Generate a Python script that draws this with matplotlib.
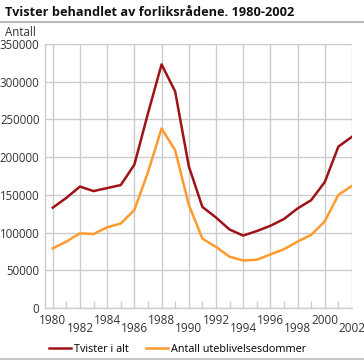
import matplotlib.pyplot as plt
from matplotlib.lines import Line2D
from matplotlib.ticker import MultipleLocator

# Data
years = list(range(1980, 2003))
tvister = [133000, 146000, 161000, 155000, 159000, 163000, 190000, 258000,
           323000, 287000, 188000, 134000, 120000, 104000, 96000, 102000,
           109000, 118000, 132000, 143000, 167000, 214000, 227000]
uteblivelse = [79000, 88000, 99000, 98000, 107000, 112000, 130000, 180000,
               238000, 209000, 137000, 92000, 81000, 68000, 63000, 64000,
               71000, 78000, 88000, 97000, 115000, 150000, 162000]
tick_years = list(range(1980, 2003, 2))
y_ticks = list(range(0, 350001, 50000))

plt.rcParams['font.family'] = ['Open Sans', 'DejaVu Sans']

red = '#9e1316'
orange = '#ff9a2e'
grid = '#cccccc'

fig = plt.figure(figsize=(3.64, 3.60), dpi=100)
ax = fig.add_axes([45/364, 1 - 308/360, (352 - 45)/364, (308 - 44)/360])

ax.plot(years, tvister, color=red, lw=1.8, label='Tvister i alt', zorder=3)
ax.plot(years, uteblivelse, color=orange, lw=1.8, label='Antall uteblivelsesdommer', zorder=3)

ax.set_xlim(1979.43, 2002)
ax.set_ylim(0, 350000)
ax.set_yticks(y_ticks)
ax.set_yticklabels([str(v) for v in y_ticks])
ax.set_xticks(tick_years)
ax.set_xticklabels([str(y) for y in tick_years])
ax.xaxis.set_minor_locator(MultipleLocator(1))

ax.grid(True, which='major', color=grid, lw=1)
ax.set_axisbelow(True)
for s in ['top', 'right']:
    ax.spines[s].set_visible(False)
for s in ['left', 'bottom']:
    ax.spines[s].set_color(grid)
    ax.spines[s].set_linewidth(1)

ax.tick_params(axis='y', length=0, labelsize=8.3, colors='#333333', pad=4)
ax.tick_params(axis='x', which='major', length=0, labelsize=8.5, colors='#333333', pad=4)
ax.tick_params(axis='x', which='minor', direction='in', length=5, color=grid, width=1)

# stagger the year labels like the reference
for i, lab in enumerate(ax.get_xticklabels()):
    if i % 2 == 1:
        lab.set_y(-0.033)

fig.text(5/364, 1 - 12/360, 'Tvister behandlet av forliksrådene. 1980-2002',
         fontsize=9.2, fontweight='bold', va='center', ha='left', color='#111111')
fig.add_artist(Line2D([0, 1], [1 - 21.5/360] * 2, color='#bbbbbb', lw=1.5))
fig.text(5/364, 1 - 33/360, 'Antall', fontsize=8.3, va='center', ha='left', color='#333333')
fig.add_artist(Line2D([0, 1], [1 - 358.5/360] * 2, color='#bbbbbb', lw=1.2))

fig.legend(loc='center', bbox_to_anchor=(0.489, 1 - 349/360), ncol=2, frameon=False,
           fontsize=7.8, handlelength=2.0, handletextpad=0.3, columnspacing=1.6)

fig.savefig('out.png', dpi=100)
